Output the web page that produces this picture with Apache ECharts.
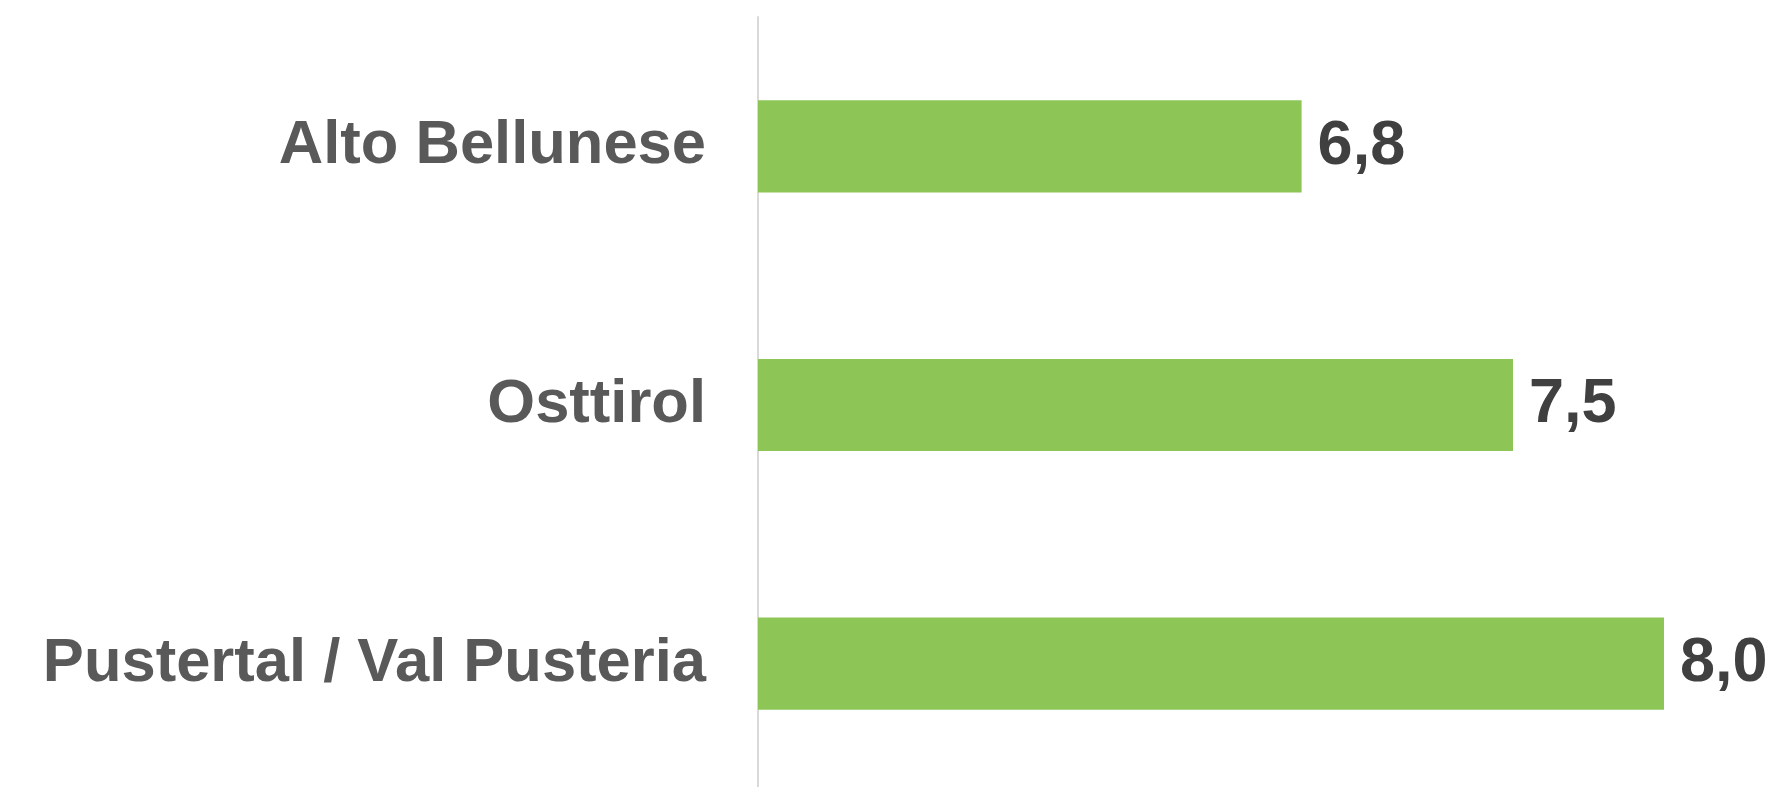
<!DOCTYPE html>
<html>
<head>
<meta charset="utf-8">
<script src="https://cdn.jsdelivr.net/npm/echarts@6/dist/echarts.min.js"></script>
<style>
html,body{margin:0;padding:0;background:#fff;}
#chart{width:1778px;height:787px;}
</style>
</head>
<body>
<div id="chart"></div>
<script>
const categories = ['Alto Bellunese', 'Osttirol', 'Pustertal / Val Pusteria'];
const values = [6.8, 7.5, 8.0];

const chart = echarts.init(document.getElementById('chart'), null, {renderer: 'canvas'});
chart.setOption({
  animation: false,
  backgroundColor: '#ffffff',
  grid: {left: 758, top: 17, width: 1057, bottom: -6, containLabel: false, outerBoundsMode: 'none'},
  xAxis: {
    type: 'value', min: 5, max: 8.5,
    show: false
  },
  yAxis: {
    type: 'category',
    data: categories,
    inverse: true,
    axisLine: {show: true, lineStyle: {color: '#d9d9d9', width: 2}},
    axisTick: {show: false},
    splitLine: {show: false},
    axisLabel: {
      margin: 52,
      color: '#595959',
      fontFamily: 'Liberation Sans, Arial, sans-serif',
      fontWeight: 'bold',
      fontSize: 61.5
    }
  },
  series: [{
    type: 'bar',
    data: values,
    barWidth: '35.6%',
    itemStyle: {color: '#8DC657'},
    label: {
      show: true,
      position: 'right',
      distance: 16,
      color: '#404040',
      fontFamily: 'Liberation Sans, Arial, sans-serif',
      fontWeight: 'bold',
      fontSize: 63,
      formatter: p => p.value.toFixed(1).replace('.', ',')
    }
  }]
});
</script>
</body>
</html>
